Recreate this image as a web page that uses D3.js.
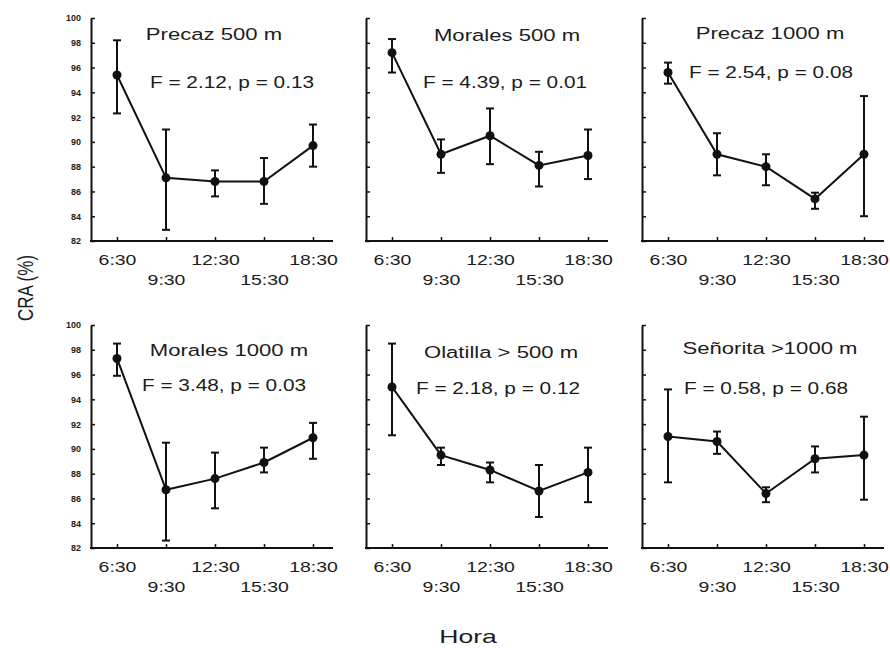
<!DOCTYPE html>
<html>
<head>
<meta charset="utf-8">
<script src="https://cdn.jsdelivr.net/npm/d3@7"></script>
<style>
  body { margin: 0; background: #fff; }
  text { font-family: "Liberation Sans", Arial, sans-serif; fill: #1c1c1c; }
</style>
</head>
<body>
<script>
// CRA (%) por hora, seis sitios
var horas = ["6:30", "9:30", "12:30", "15:30", "18:30"];
var sitios = ["Precaz 500 m", "Morales 500 m", "Precaz 1000 m",
              "Morales 1000 m", "Olatilla > 500 m", "Señorita >1000 m"];
var estadisticos = ["F = 2.12, p = 0.13", "F = 4.39, p = 0.01", "F = 2.54, p = 0.08",
                    "F = 3.48, p = 0.03", "F = 2.18, p = 0.12", "F = 0.58, p = 0.68"];
var medias = [
  [95.4, 87.1, 86.8, 86.8, 89.7],
  [97.2, 89.0, 90.5, 88.1, 88.9],
  [95.6, 89.0, 88.0, 85.4, 89.0],
  [97.3, 86.7, 87.6, 88.9, 90.9],
  [95.0, 89.5, 88.3, 86.6, 88.1],
  [91.0, 90.6, 86.4, 89.2, 89.5]
];
var superior = [
  [98.2, 91.0, 87.7, 88.7, 91.4],
  [98.3, 90.2, 92.7, 89.2, 91.0],
  [96.4, 90.7, 89.0, 85.9, 93.7],
  [98.5, 90.5, 89.7, 90.1, 92.1],
  [98.5, 90.1, 88.9, 88.7, 90.1],
  [94.8, 91.4, 86.9, 90.2, 92.6]
];
var inferior = [
  [92.3, 82.9, 85.6, 85.0, 88.0],
  [95.6, 87.5, 88.2, 86.4, 87.0],
  [94.7, 87.3, 86.5, 84.6, 84.0],
  [95.9, 82.6, 85.2, 88.1, 89.2],
  [91.1, 88.7, 87.3, 84.5, 85.7],
  [87.3, 89.6, 85.7, 88.1, 85.9]
];
var yTicks = [82, 84, 86, 88, 90, 92, 94, 96, 98, 100];

// layout
var w = 890, h = 648;
var colX = [91, 366, 642];
var rowY = [18, 325];
var pw = 242, ph = 223;
var stretch = 1.3;
// title / F text centres, relative to each panel's top-left
var textPos = [
  [123, 16, 141, 64], [141, 17, 139, 64], [128, 15, 129, 54],
  [138, 25, 133, 60], [135, 27, 132, 63], [128, 23, 124, 63]
];

var svg = d3.select("body").append("svg")
  .attr("width", w).attr("height", h)
  .style("background", "#fff");

sitios.forEach(function(sitio, i) {
  var x0 = colX[i % 3], y0 = rowY[Math.floor(i / 3)];

  var x = d3.scalePoint().domain(horas).range([x0 + 26, x0 + 222]);
  var y = d3.scaleLinear().domain([82, 100]).range([y0 + ph, y0]);

  var g = svg.append("g");

  // y axis, ticks inward
  var yAxis = d3.axisLeft(y).tickValues(yTicks).tickSize(-4).tickSizeOuter(0).tickPadding(10);
  if (i % 3 != 0) yAxis.tickFormat("");
  var ya = g.append("g").attr("transform", "translate(" + x0 + ",0)").call(yAxis);
  ya.select(".domain").attr("stroke", "#111").attr("stroke-width", 2);
  ya.selectAll(".tick line").attr("stroke", "#111").attr("stroke-width", 1.5);
  ya.selectAll("text").style("font-size", "9px").style("font-weight", "bold").attr("fill", "#333");

  // x axis, staggered labels
  var xAxis = d3.axisBottom(x).tickSize(-4).tickSizeOuter(0);
  var xa = g.append("g").attr("transform", "translate(0," + (y0 + ph) + ")").call(xAxis);
  xa.select(".domain").remove();
  xa.append("line").attr("x1", x0 - 1).attr("x2", x0 + pw).attr("y1", 0).attr("y2", 0)
    .attr("stroke", "#111").attr("stroke-width", 2);
  xa.selectAll(".tick line").attr("stroke", "#111").attr("stroke-width", 1.5);
  xa.selectAll("text")
    .style("font-size", "15px")
    .attr("fill", "#1c1c1c")
    .attr("y", (d, k) => k % 2 == 0 ? 19 : 39)
    .attr("dy", "0.35em")
    .attr("transform", "scale(" + stretch + ",1)");

  // line through means
  var pts = horas.map((hh, k) => ({ hora: hh, m: medias[i][k], hi: superior[i][k], lo: inferior[i][k] }));
  g.append("path").datum(pts)
    .attr("fill", "none").attr("stroke", "#111").attr("stroke-width", 2)
    .attr("d", d3.line().x(d => x(d.hora)).y(d => y(d.m)));

  // error bars
  var eb = g.selectAll(".eb").data(pts).enter().append("g").attr("class", "eb")
    .attr("stroke", "#111").attr("stroke-width", 2);
  eb.append("line").attr("x1", d => x(d.hora)).attr("x2", d => x(d.hora))
    .attr("y1", d => y(d.hi)).attr("y2", d => y(d.lo));
  eb.append("line").attr("x1", d => x(d.hora) - 4).attr("x2", d => x(d.hora) + 4)
    .attr("y1", d => y(d.hi)).attr("y2", d => y(d.hi));
  eb.append("line").attr("x1", d => x(d.hora) - 4).attr("x2", d => x(d.hora) + 4)
    .attr("y1", d => y(d.lo)).attr("y2", d => y(d.lo));

  g.selectAll("circle").data(pts).enter().append("circle")
    .attr("cx", d => x(d.hora)).attr("cy", d => y(d.m)).attr("r", 4.5)
    .attr("fill", "#111");

  // titles
  var tp = textPos[i];
  g.append("g").attr("transform", "translate(" + (x0 + tp[0]) + "," + (y0 + tp[1]) + ")")
    .append("text").attr("text-anchor", "middle").attr("dy", "0.35em")
    .attr("transform", "scale(" + stretch + ",1)")
    .style("font-size", "17px").text(sitio);
  g.append("g").attr("transform", "translate(" + (x0 + tp[2]) + "," + (y0 + tp[3]) + ")")
    .append("text").attr("text-anchor", "middle").attr("dy", "0.35em")
    .attr("transform", "scale(" + stretch + ",1)")
    .style("font-size", "16px").text(estadisticos[i]);
});

// axis titles
svg.append("g").attr("transform", "translate(25,288) scale(1.3,1) rotate(-90)")
  .append("text").attr("text-anchor", "middle").attr("dy", "0.35em")
  .style("font-size", "17px").text("CRA (%)");
svg.append("g").attr("transform", "translate(468,636) scale(1.4,1)")
  .append("text").attr("text-anchor", "middle").attr("dy", "0.35em")
  .style("font-size", "19px").text("Hora");
</script>
</body>
</html>
